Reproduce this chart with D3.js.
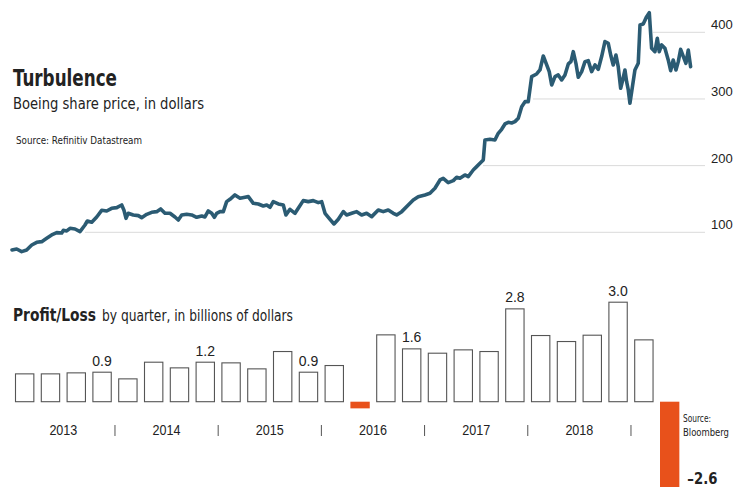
<!DOCTYPE html>
<html>
<head>
<meta charset="utf-8">
<script src="https://cdn.jsdelivr.net/npm/d3@7"></script>
<style>
  body { margin: 0; background: #fff; }
  svg { display: block; }
  text { font-family: "Liberation Sans Narrow", "DejaVu Sans Condensed", "Liberation Sans", sans-serif; fill: #222; }
  .num { font-family: "Liberation Sans", Arial, sans-serif; }
</style>
</head>
<body>
<svg id="chart" width="736" height="487"></svg>
<script>
// share price, decimal years / dollars
const priceDates = [2012.670, 2012.718, 2012.769, 2012.820, 2012.872, 2012.923, 2012.974, 2013.025, 2013.076, 2013.128,
  2013.179, 2013.195, 2013.230, 2013.264, 2013.315, 2013.366, 2013.417, 2013.441, 2013.486, 2013.537,
  2013.588, 2013.639, 2013.690, 2013.742, 2013.793, 2013.816, 2013.837, 2013.860, 2013.911, 2013.963,
  2013.997, 2014.049, 2014.100, 2014.151, 2014.192, 2014.236, 2014.287, 2014.338, 2014.372, 2014.407,
  2014.458, 2014.509, 2014.560, 2014.612, 2014.645, 2014.679, 2014.714, 2014.741, 2014.765, 2014.799,
  2014.833, 2014.867, 2014.901, 2014.952, 2015.004, 2015.055, 2015.089, 2015.140, 2015.191, 2015.242,
  2015.277, 2015.311, 2015.344, 2015.396, 2015.447, 2015.474, 2015.515, 2015.567, 2015.600, 2015.651,
  2015.703, 2015.754, 2015.805, 2015.840, 2015.874, 2015.925, 2015.966, 2016.010, 2016.061, 2016.096,
  2016.147, 2016.198, 2016.249, 2016.300, 2016.352, 2016.419, 2016.470, 2016.521, 2016.573, 2016.607,
  2016.659, 2016.726, 2016.777, 2016.828, 2016.897, 2016.948, 2016.999, 2017.051, 2017.084, 2017.135,
  2017.187, 2017.221, 2017.255, 2017.306, 2017.340, 2017.391, 2017.426, 2017.460, 2017.494, 2017.511,
  2017.562, 2017.613, 2017.647, 2017.682, 2017.716, 2017.750, 2017.784, 2017.818, 2017.852, 2017.887,
  2017.921, 2017.954, 2017.989, 2018.040, 2018.074, 2018.108, 2018.143, 2018.169, 2018.194, 2018.228,
  2018.261, 2018.296, 2018.330, 2018.364, 2018.391, 2018.415, 2018.442, 2018.466, 2018.501, 2018.535,
  2018.568, 2018.603, 2018.637, 2018.671, 2018.706, 2018.739, 2018.773, 2018.801, 2018.824, 2018.852,
  2018.875, 2018.900, 2018.921, 2018.944, 2018.961, 2018.978, 2018.995, 2019.023, 2019.046, 2019.080,
  2019.098, 2019.131, 2019.166, 2019.193, 2019.217, 2019.251, 2019.275, 2019.295, 2019.320, 2019.353,
  2019.387, 2019.412, 2019.438, 2019.466, 2019.490, 2019.514, 2019.541, 2019.568, 2019.592, 2019.616];
const priceValues = [73.5, 75, 71, 73.5, 81, 85, 86, 91, 96, 99.5,
  99, 103, 102, 106, 105, 101, 111, 117, 115, 123,
  133, 132, 136, 137, 141, 133, 121, 128.5, 126, 125,
  122, 127, 130, 131, 135, 128.5, 128.5, 123, 118.5, 126,
  127, 126, 122.5, 124.5, 123, 132, 128.5, 122.5, 128.5, 131,
  131, 146, 149.5, 156, 151, 152.5, 153.5, 143.5, 142.5, 139.5,
  141, 137.5, 146, 142.5, 141, 126, 134.5, 128.5, 136, 147.5,
  146, 147.5, 144.5, 146, 128.5, 119.5, 112.5, 119.5, 131, 126,
  128.5, 131, 126, 128.5, 123.5, 133.5, 131, 133.5, 128.5, 126,
  131, 141, 148.5, 153.5, 156, 158.5, 166, 178.5, 181, 174.5,
  177.5, 182.5, 181, 186, 183.5, 193.5, 198.5, 203.5, 208.5, 238.5,
  239.5, 238.5, 248.5, 254.5, 262.5, 265, 264, 266, 271, 288.5,
  296, 296, 333.5, 337.5, 343.5, 364.5, 351, 341, 321, 333.5,
  336, 328.5, 336, 352.5, 356, 371, 353.5, 332.5, 341, 356,
  357.5, 341, 351, 344.5, 364, 386, 383.5, 364, 351, 366,
  348.5, 316, 328.5, 343.5, 326, 313.5, 293.5, 321, 343.5, 353.5,
  411, 412.5, 423.5, 429.5, 376, 371, 391, 371, 381, 376,
  358.5, 342.5, 358.5, 343.5, 356, 374.5, 364, 353.5, 373.5, 348.5];

const priceTicks = [100, 200, 300, 400];
const gridFrom = [2013.417, 2017.491, 2018.003, 2019.231];

// quarterly profit/loss, billions of dollars, 2013 Q1 .. 2019 Q2
const quarterValues = [0.85, 0.85, 0.88, 0.9, 0.7, 1.2, 1.03, 1.2, 1.18, 1.0, 1.52, 0.9, 1.1,
  -0.2, 2.02, 1.6, 1.47, 1.57, 1.52, 2.8, 2.0, 1.82, 2.01, 3.0, 1.87, -2.6];
const labelledQuarters = [3, 7, 11, 15, 19, 23];
const years = ["2013", "2014", "2015", "2016", "2017", "2018"];

const svg = d3.select("#chart");
const lineColor = "#2b5b73";
const orange = "#e8511b";

// squeeze text to the condensed width of the original face
function fit(sel, w) {
  return sel.attr("textLength", w).attr("lengthAdjust", "spacingAndGlyphs");
}

// ---- share price ----
const x = d3.scaleLinear().domain([2012.67, 2019.62]).range([12, 691]);
const y = d3.scaleLinear().domain([100, 400]).range([232.3, 32.3]);
const gridRight = 705;

svg.append("g")
  .selectAll("line")
  .data(priceTicks)
  .join("line")
  .attr("x1", (d, i) => x(gridFrom[i]))
  .attr("x2", gridRight)
  .attr("y1", d => y(d))
  .attr("y2", d => y(d))
  .attr("stroke", "#dadada")
  .attr("stroke-width", 1);

svg.append("g")
  .selectAll("text")
  .data(priceTicks)
  .join("text")
  .attr("class", "num")
  .attr("x", 711)
  .attr("y", d => y(d) - 3)
  .attr("font-size", 13)
  .attr("fill", "#333")
  .text(d => d);

const line = d3.line()
  .x(d => x(d[0]))
  .y(d => y(d[1]));

svg.append("path")
  .datum(d3.zip(priceDates, priceValues))
  .attr("d", line)
  .attr("fill", "none")
  .attr("stroke", lineColor)
  .attr("stroke-width", 3.6)
  .attr("stroke-linejoin", "round")
  .attr("stroke-linecap", "round");

// titles
svg.append("text").attr("x", 13).attr("y", 85.5)
  .attr("font-size", 23).attr("font-weight", "bold").attr("fill", "#1a1a1a")
  .text("Turbulence").call(fit, 104);
svg.append("text").attr("x", 13).attr("y", 108.5)
  .attr("font-size", 16).attr("fill", "#333")
  .text("Boeing share price, in dollars").call(fit, 191);
svg.append("text").attr("x", 16).attr("y", 143.5)
  .attr("font-size", 11).attr("fill", "#333")
  .text("Source: Refinitiv Datastream").call(fit, 126);

// ---- profit / loss ----
const bx = d3.scaleBand()
  .domain(d3.range(quarterValues.length))
  .range([8.55, 685.8])
  .paddingInner(0.25)
  .paddingOuter(0.25);
const by = d3.scaleLinear().domain([0, 3]).range([401.7, 301.7]);

svg.append("g")
  .selectAll("rect")
  .data(quarterValues)
  .join("rect")
  .attr("x", (d, i) => bx(i) + (d < 0 ? 0 : 0.5))
  .attr("width", d => bx.bandwidth() - (d < 0 ? 0 : 1))
  .attr("y", d => d < 0 ? by(0) : by(d) + 0.5)
  .attr("height", d => Math.abs(by(d) - by(0)) - (d < 0 ? 0 : 0.5))
  .attr("fill", d => d < 0 ? orange : "#fff")
  .attr("stroke", d => d < 0 ? "none" : "#555")
  .attr("stroke-width", 1.1);

svg.append("g")
  .selectAll("text")
  .data(labelledQuarters)
  .join("text")
  .attr("class", "num")
  .attr("x", i => bx(i) + bx.bandwidth() / 2)
  .attr("y", i => by(quarterValues[i]) - 6)
  .attr("text-anchor", "middle")
  .attr("font-size", 14)
  .attr("fill", "#333")
  .text(i => d3.format(".1f")(quarterValues[i]));

// year labels and separators
const yearCenter = k => (bx(k * 4) + bx(k * 4 + 3) + bx.bandwidth()) / 2;
svg.append("g")
  .selectAll("text")
  .data(years)
  .join("text")
  .attr("class", "num")
  .attr("x", (d, k) => yearCenter(k))
  .attr("y", 435)
  .attr("text-anchor", "middle")
  .attr("font-size", 14)
  .attr("fill", "#333")
  .text(d => d)
  .call(fit, 28);

const gap = bx.step() - bx.bandwidth();
svg.append("g")
  .selectAll("line")
  .data(years)
  .join("line")
  .attr("x1", (d, k) => bx(k * 4 + 4) - gap / 2)
  .attr("x2", (d, k) => bx(k * 4 + 4) - gap / 2)
  .attr("y1", 425)
  .attr("y2", 436)
  .attr("stroke", "#555")
  .attr("stroke-width", 1);

svg.append("text").attr("x", 13).attr("y", 320.7)
  .attr("font-size", 17.5).attr("font-weight", "bold").attr("fill", "#1a1a1a")
  .text("Profit/Loss").call(fit, 83);
svg.append("text").attr("x", 102).attr("y", 320.7)
  .attr("font-size", 15).attr("fill", "#333")
  .text("by quarter, in billions of dollars").call(fit, 191);

const last = quarterValues.length - 1;
svg.append("text").attr("x", 683).attr("y", 421.5)
  .attr("font-size", 11).attr("fill", "#333").text("Source:").call(fit, 28);
svg.append("text").attr("x", 683).attr("y", 435.5)
  .attr("font-size", 11).attr("fill", "#333").text("Bloomberg").call(fit, 46);
svg.append("text")
  .attr("x", bx(last) + bx.bandwidth() + 8)
  .attr("y", 483.5)
  .attr("font-size", 15).attr("font-weight", "bold").attr("fill", orange)
  .text("–" + d3.format(".1f")(-quarterValues[last]))
  .call(fit, 30);
</script>
</body>
</html>
